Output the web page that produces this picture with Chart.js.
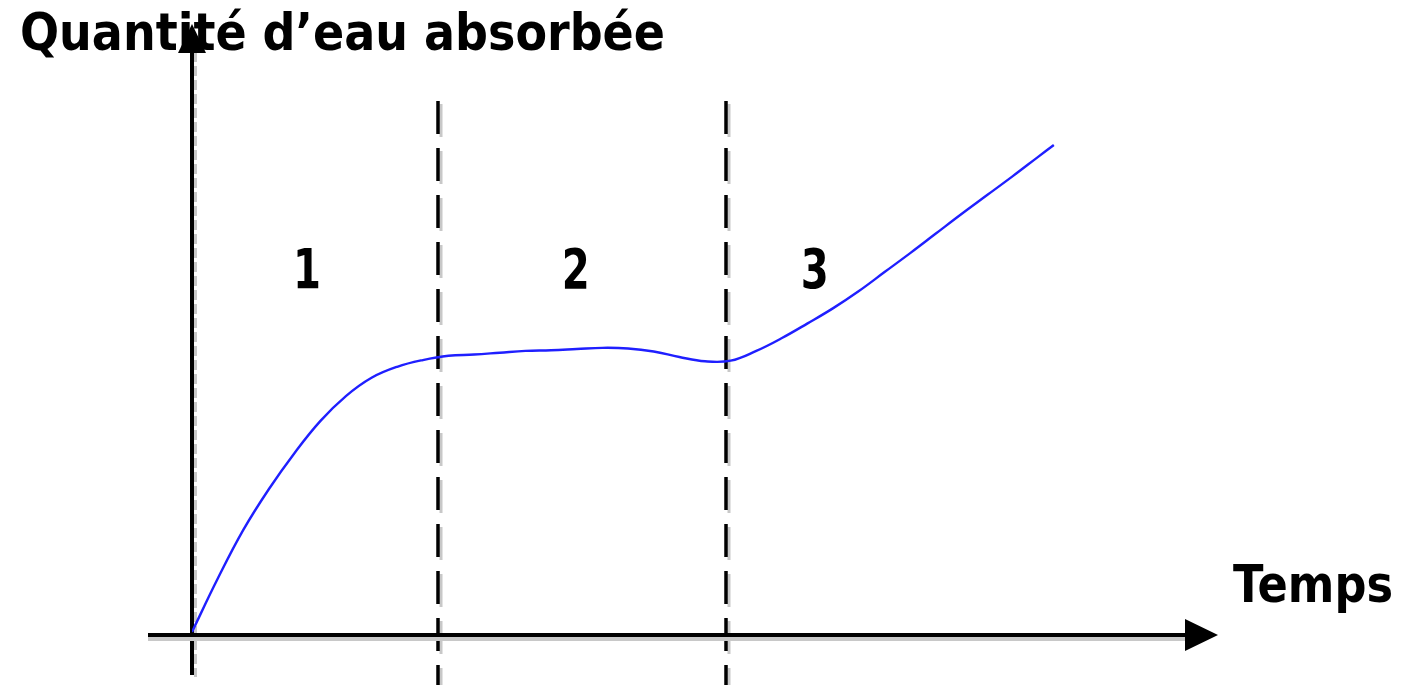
<!DOCTYPE html>
<html lang="fr">
<head>
    <meta charset="UTF-8">
    <title>Quantité d'eau absorbée</title>
    <script src="https://cdn.jsdelivr.net/npm/chart.js"></script>
    <style>
        body {
            margin: 0;
            background: #fff;
            overflow: hidden;
        }
        canvas {
            display: block;
        }
    </style>
</head>
<body>
    <canvas id="waterChart" width="1404" height="685"></canvas>

    <script>
        // Temps (unités arbitraires) et quantité d'eau absorbée
        const temps = [0, 2.5, 5, 7.5, 10, 12.5, 15, 17.5, 20, 22.5, 25, 27.5, 30, 32.5, 35, 37.5, 40, 42.5, 45, 47.5, 50, 52.5, 55, 57.5, 60, 62.5, 65, 67.5, 70, 72.5, 75, 77.5, 80, 82.5, 84];
        const quantite = [0.5, 9.2, 17.2, 23.9, 29.8, 35.0, 39.1, 42.1, 43.9, 45.0, 45.7, 45.9, 46.2, 46.5, 46.6, 46.8, 47.0, 46.9, 46.4, 45.5, 44.8, 44.9, 46.5, 48.6, 51.0, 53.5, 56.3, 59.4, 62.5, 65.7, 68.9, 72.0, 75.1, 78.3, 80.2];

        // limites des phases et numéros
        const limitesPhases = [24, 52];
        const numerosPhases = ['1', '2', '3'];
        const positionPhasesX = [11.2, 37.4, 60.7];
        const positionPhasesY = 60.2;

        const titreAxeY = "Quantité d’eau absorbée";
        const titreAxeX = 'Temps';

        const FONT = "'DejaVu Sans', 'Liberation Sans', sans-serif";

        // texte compressé horizontalement pour tenir dans une largeur donnée
        function fittedText(ctx, text, x, y, size, width, align) {
            ctx.save();
            ctx.font = 'bold ' + size + 'px ' + FONT;
            ctx.textBaseline = 'alphabetic';
            ctx.textAlign = 'left';
            const w = ctx.measureText(text).width;
            const sx = width / w;
            const left = align === 'center' ? x - width / 2 : x;
            ctx.translate(left, y);
            ctx.scale(sx, 1);
            ctx.fillStyle = '#000';
            ctx.fillText(text, 0, 0);
            ctx.restore();
        }

        function vline(ctx, x, y1, y2, color, width, dash) {
            ctx.save();
            ctx.strokeStyle = color;
            ctx.lineWidth = width;
            ctx.setLineDash(dash || []);
            ctx.beginPath();
            ctx.moveTo(x, y1);
            ctx.lineTo(x, y2);
            ctx.stroke();
            ctx.restore();
        }

        const schemaPlugin = {
            id: 'schema',
            beforeDatasetsDraw(chart) {
                const ctx = chart.ctx;
                const xs = chart.scales.x;
                const ys = chart.scales.y;
                const x0 = xs.getPixelForValue(0);
                const y0 = ys.getPixelForValue(0);
                const yTop = ys.getPixelForValue(100);
                const xEnd = xs.getPixelForValue(100);
                const H = chart.height;

                // lignes pointillées de séparation des phases (avec ombre grise)
                limitesPhases.forEach(v => {
                    const px = Math.round(xs.getPixelForValue(v));
                    vline(ctx, px + 3, 104, H + 3, '#c8c8c8', 3, [33, 14]);
                    vline(ctx, px, 101, H, '#000', 3.5, [33, 14]);
                });

                // axe des ordonnées
                vline(ctx, x0 + 3.5, yTop + 28, H - 8, '#c8c8c8', 3, [10, 4]);
                vline(ctx, x0, yTop + 26, H - 10, '#000', 4);
                ctx.fillStyle = '#000';
                ctx.beginPath();
                ctx.moveTo(x0, yTop);
                ctx.lineTo(x0 - 14, yTop + 29);
                ctx.lineTo(x0 + 14, yTop + 29);
                ctx.closePath();
                ctx.fill();

                // axe des abscisses
                ctx.save();
                ctx.lineWidth = 4;
                ctx.strokeStyle = '#c8c8c8';
                ctx.beginPath();
                ctx.moveTo(148, y0 + 4);
                ctx.lineTo(xEnd - 30, y0 + 4);
                ctx.stroke();
                ctx.strokeStyle = '#000';
                ctx.beginPath();
                ctx.moveTo(148, y0);
                ctx.lineTo(xEnd - 30, y0);
                ctx.stroke();
                ctx.restore();
                ctx.fillStyle = '#000';
                ctx.beginPath();
                ctx.moveTo(xEnd, y0);
                ctx.lineTo(xEnd - 33, y0 - 16);
                ctx.lineTo(xEnd - 33, y0 + 16);
                ctx.closePath();
                ctx.fill();
            },
            afterDatasetsDraw(chart) {
                const ctx = chart.ctx;
                const xs = chart.scales.x;
                const ys = chart.scales.y;

                // numéros des phases
                numerosPhases.forEach((n, i) => {
                    const px = xs.getPixelForValue(positionPhasesX[i]);
                    const py = ys.getPixelForValue(positionPhasesY) + 21;
                    fittedText(ctx, n, px, py, 56, 28, 'center');
                });

                // titres des axes
                fittedText(ctx, titreAxeY, 20, 50, 51, 645);
                fittedText(ctx, titreAxeX, 1233, 602, 52, 160);
            }
        };

        new Chart(document.getElementById('waterChart'), {
            type: 'line',
            data: {
                datasets: [{
                    data: temps.map((t, i) => ({ x: t, y: quantite[i] })),
                    borderColor: '#1f1fff',
                    borderWidth: 2.4,
                    pointRadius: 0,
                    tension: 0.4,
                    fill: false
                }]
            },
            options: {
                responsive: false,
                animation: false,
                layout: {
                    padding: { left: 192, right: 186, top: 24, bottom: 50 }
                },
                scales: {
                    x: { type: 'linear', min: 0, max: 100, display: false },
                    y: { type: 'linear', min: 0, max: 100, display: false }
                },
                plugins: {
                    legend: { display: false },
                    tooltip: { enabled: false }
                }
            },
            plugins: [schemaPlugin]
        });
    </script>
</body>
</html>
